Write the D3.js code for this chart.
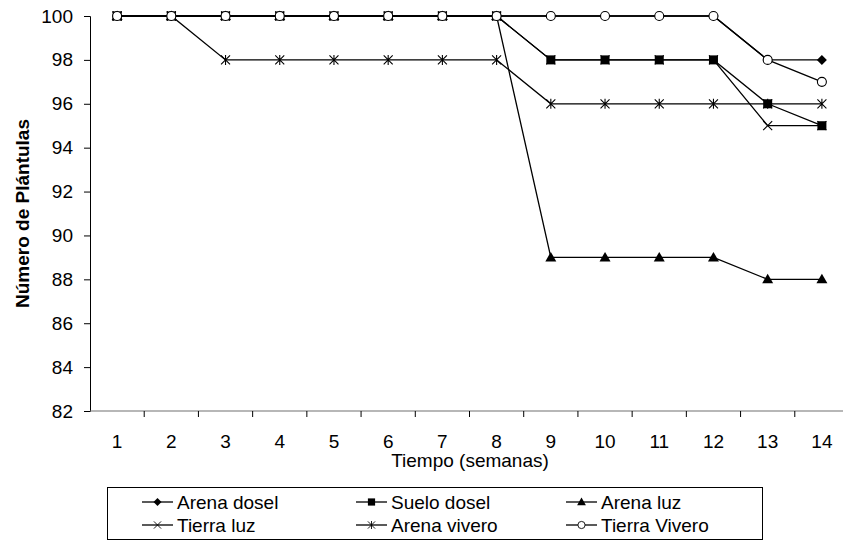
<!DOCTYPE html>
<html>
<head>
<meta charset="utf-8">
<script src="https://cdn.jsdelivr.net/npm/d3@7"></script>
<style>
  html, body { margin: 0; padding: 0; background: #fff; }
  svg { display: block; font-family: "Liberation Sans", Arial, sans-serif; }
</style>
</head>
<body>
<svg id="chart" width="843" height="542"></svg>
<script>
// Weeks of observation
const weeks = [1, 2, 3, 4, 5, 6, 7, 8, 9, 10, 11, 12, 13, 14];

// Number of surviving seedlings per treatment
const arenaDosel  = [100, 100, 100, 100, 100, 100, 100, 100, 100, 100, 100, 100, 98, 98];
const sueloDosel  = [100, 100, 100, 100, 100, 100, 100, 100, 98, 98, 98, 98, 96, 95];
const arenaLuz    = [100, 100, 100, 100, 100, 100, 100, 100, 89, 89, 89, 89, 88, 88];
const tierraLuz   = [100, 100, 100, 100, 100, 100, 100, 100, 98, 98, 98, 98, 95, 95];
const arenaVivero = [100, 100, 98, 98, 98, 98, 98, 98, 96, 96, 96, 96, 96, 96];
const tierraVivero = [100, 100, 100, 100, 100, 100, 100, 100, 100, 100, 100, 100, 98, 97];

const seriesNames = ["Arena dosel", "Suelo dosel", "Arena luz", "Tierra luz", "Arena vivero", "Tierra Vivero"];
const seriesValues = [arenaDosel, sueloDosel, arenaLuz, tierraLuz, arenaVivero, tierraVivero];
const seriesMarkers = ["diamond", "square", "triangle", "cross", "asterisk", "circle"];

const yTicks = [82, 84, 86, 88, 90, 92, 94, 96, 98, 100];

const FONT = 19;
const svg = d3.select("#chart");
const plotLeft = 90, plotRight = 849, plotTop = 16, plotBottom = 411;

const x = d3.scaleBand().domain(weeks).range([plotLeft, plotRight]).paddingInner(0).paddingOuter(0);
const cx = w => x(w) + x.bandwidth() / 2;
const y = d3.scaleLinear().domain([82, 100]).range([plotBottom, plotTop]);

// Y axis
const yAxis = svg.append("g")
  .attr("transform", `translate(${plotLeft},0)`)
  .call(d3.axisLeft(y).tickValues(yTicks).tickSize(6).tickPadding(11).tickFormat(d3.format("d")));
yAxis.select(".domain").attr("stroke", "#000").attr("stroke-width", 1);
yAxis.selectAll(".tick line").attr("stroke", "#000");
yAxis.selectAll("text").attr("font-size", FONT).attr("fill", "#000")
  .style("font-family", "'Liberation Sans', Arial, sans-serif");

// X axis with ticks between categories
const xAxis = svg.append("g").attr("transform", `translate(0,${plotBottom})`);
xAxis.append("line").attr("x1", plotLeft).attr("x2", plotRight).attr("y1", 0).attr("y2", 0)
  .attr("stroke", "#707070").attr("stroke-width", 1.2);
xAxis.selectAll("line.tk").data(weeks).enter().append("line")
  .attr("class", "tk")
  .attr("x1", d => x(d) + x.bandwidth())
  .attr("x2", d => x(d) + x.bandwidth())
  .attr("y1", 0).attr("y2", 6).attr("stroke", "#000");
xAxis.selectAll("text").data(weeks).enter().append("text")
  .attr("x", d => cx(d)).attr("y", 37)
  .attr("text-anchor", "middle").attr("font-size", FONT).text(d => d);

// Axis titles
svg.append("text").attr("x", 470).attr("y", 467).attr("text-anchor", "middle")
  .attr("font-size", FONT).text("Tiempo (semanas)");
svg.append("text")
  .attr("transform", `translate(29,${(plotTop + plotBottom) / 2}) rotate(-90)`)
  .attr("text-anchor", "middle").attr("font-size", FONT).attr("font-weight", "bold")
  .text("Número de Plántulas");

// Marker drawing helper
function drawMarker(g, type, px, py) {
  switch (type) {
    case "diamond":
      g.append("path").attr("d", `M${px},${py - 5}L${px + 5},${py}L${px},${py + 5}L${px - 5},${py}Z`).attr("fill", "#000");
      break;
    case "square":
      g.append("rect").attr("x", px - 4.5).attr("y", py - 4.5).attr("width", 9).attr("height", 9).attr("fill", "#000");
      break;
    case "triangle":
      g.append("path").attr("d", `M${px},${py - 5.5}L${px + 5.5},${py + 4}L${px - 5.5},${py + 4}Z`).attr("fill", "#000");
      break;
    case "cross":
      g.append("path").attr("d", `M${px - 4.5},${py - 4.5}L${px + 4.5},${py + 4.5}M${px - 4.5},${py + 4.5}L${px + 4.5},${py - 4.5}`)
        .attr("stroke", "#000").attr("stroke-width", 1.1);
      break;
    case "asterisk":
      g.append("path").attr("d", `M${px - 4.5},${py - 4.5}L${px + 4.5},${py + 4.5}M${px - 4.5},${py + 4.5}L${px + 4.5},${py - 4.5}M${px},${py - 5}L${px},${py + 5}`)
        .attr("stroke", "#000").attr("stroke-width", 1.1);
      break;
    case "circle":
      g.append("circle").attr("cx", px).attr("cy", py).attr("r", 4.5)
        .attr("fill", "#fff").attr("stroke", "#000").attr("stroke-width", 1.1);
      break;
  }
}

// Series lines and markers
const line = d3.line().x((d, i) => cx(weeks[i])).y(d => y(d));
seriesValues.forEach((vals, si) => {
  const g = svg.append("g");
  g.append("path").datum(vals).attr("d", line)
    .attr("fill", "none").attr("stroke", "#000").attr("stroke-width", 1.3);
  vals.forEach((v, i) => drawMarker(g, seriesMarkers[si], cx(weeks[i]), y(v)));
});

// Legend
const legend = svg.append("g");
legend.append("rect").attr("x", 107.5).attr("y", 487.5).attr("width", 655).attr("height", 52)
  .attr("fill", "#fff").attr("stroke", "#000").attr("stroke-width", 1);
const colX = [142, 356, 566];
const rowY = [502, 525];
seriesNames.forEach((name, i) => {
  const lx = colX[i % 3], ly = rowY[Math.floor(i / 3)];
  const g = legend.append("g");
  g.append("line").attr("x1", lx).attr("x2", lx + 31).attr("y1", ly).attr("y2", ly)
    .attr("stroke", "#000").attr("stroke-width", 1.3);
  const mg = g.append("g").attr("transform", `translate(${lx + 15.5},${ly}) scale(0.8) translate(${-(lx + 15.5)},${-ly})`);
  drawMarker(mg, seriesMarkers[i], lx + 15.5, ly);
  g.append("text").attr("x", lx + 35).attr("y", ly + 7).attr("font-size", FONT).text(name);
});
</script>
</body>
</html>
